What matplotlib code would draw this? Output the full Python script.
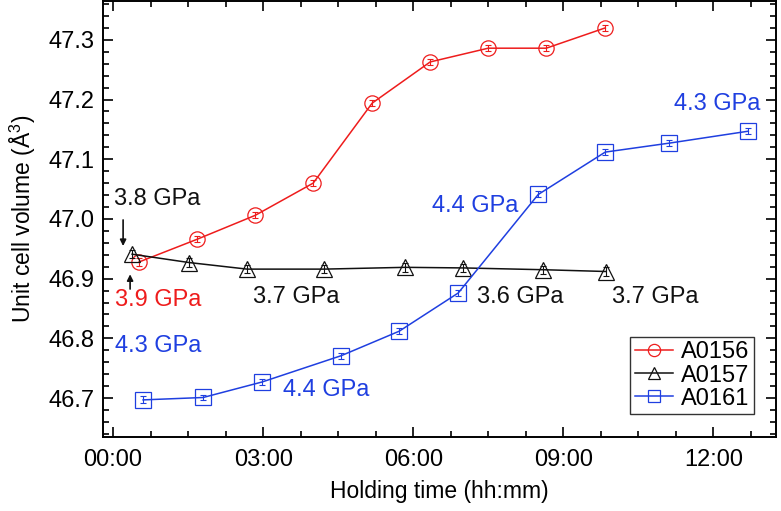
import numpy as np
import matplotlib
matplotlib.use("Agg")
import matplotlib.pyplot as plt
from matplotlib.ticker import MultipleLocator, FuncFormatter

plt.rcParams['font.family'] = ['Liberation Sans', 'DejaVu Sans']
plt.rcParams['mathtext.fontset'] = 'custom'
plt.rcParams['mathtext.rm'] = 'Liberation Sans'
plt.rcParams['mathtext.it'] = 'Liberation Sans:italic'

# holding time in hours, unit cell volume in A^3
t_a0156 = [0.52, 1.68, 2.84, 4.00, 5.18, 6.34, 7.50, 8.66, 9.84]
v_a0156 = [46.928, 46.966, 47.006, 47.060, 47.194, 47.263, 47.286, 47.286, 47.320]
e_a0156 = [0.006, 0.005, 0.005, 0.005, 0.005, 0.005, 0.005, 0.005, 0.005]

t_a0157 = [0.38, 1.52, 2.68, 4.22, 5.84, 7.00, 8.60, 9.86]
v_a0157 = [46.941, 46.927, 46.916, 46.916, 46.919, 46.918, 46.915, 46.912]
e_a0157 = [0.007, 0.007, 0.007, 0.007, 0.007, 0.007, 0.007, 0.007]

t_a0161 = [0.60, 1.80, 2.98, 4.56, 5.72, 6.90, 8.50, 9.84, 11.12, 12.70]
v_a0161 = [46.697, 46.701, 46.727, 46.771, 46.812, 46.876, 47.041, 47.112, 47.127, 47.147]
e_a0161 = [0.006, 0.005, 0.005, 0.005, 0.005, 0.005, 0.005, 0.005, 0.005, 0.005]

red = '#ee1c1c'
black = '#111111'
blue = '#1f3fe0'

fig = plt.figure(figsize=(7.81, 5.11), dpi=100)
ax = fig.add_axes([0.132, 0.145, 0.862, 0.853])

series = [(t_a0156, v_a0156, e_a0156, red, 'o', 'A0156'),
          (t_a0157, v_a0157, e_a0157, black, '^', 'A0157'),
          (t_a0161, v_a0161, e_a0161, blue, 's', 'A0161')]
for t, v, e, c, m, lab in series:
    ax.plot(t, v, color=c, marker=m, lw=1.1, ms=11, mfc='none', mew=0.9, label=lab)
    ax.errorbar(t, v, yerr=e, fmt='none', ecolor=c, capsize=2.5, elinewidth=0.8, capthick=0.8)

fs = 17
# pressure labels
ax.text(0.02, 47.033, '3.8 GPa', color=black, fontsize=fs, va='center')
ax.annotate('', xy=(0.20, 46.950), xytext=(0.20, 47.003),
            arrowprops=dict(arrowstyle='-|>', color=black, lw=1.2, mutation_scale=9))
ax.annotate('', xy=(0.34, 46.912), xytext=(0.34, 46.878),
            arrowprops=dict(arrowstyle='-|>', color=black, lw=1.2, mutation_scale=9))
ax.text(0.04, 46.864, '3.9 GPa', color=red, fontsize=fs, va='center')
ax.text(2.80, 46.869, '3.7 GPa', color=black, fontsize=fs, va='center')
ax.text(7.28, 46.869, '3.6 GPa', color=black, fontsize=fs, va='center')
ax.text(9.98, 46.869, '3.7 GPa', color=black, fontsize=fs, va='center')
ax.text(0.04, 46.787, '4.3 GPa', color=blue, fontsize=fs, va='center')
ax.text(3.40, 46.713, '4.4 GPa', color=blue, fontsize=fs, va='center')
ax.text(6.38, 47.022, '4.4 GPa', color=blue, fontsize=fs, va='center')
ax.text(11.22, 47.193, '4.3 GPa', color=blue, fontsize=fs, va='center')

ax.set_xlim(-0.2, 13.26)
ax.set_ylim(46.635, 47.365)
ax.xaxis.set_major_locator(MultipleLocator(3))
ax.xaxis.set_minor_locator(MultipleLocator(0.75))
ax.xaxis.set_major_formatter(FuncFormatter(lambda v, p: '%02d:%02d' % (int(v), int(round((v % 1) * 60)))))
ax.yaxis.set_major_locator(MultipleLocator(0.1))
ax.yaxis.set_minor_locator(MultipleLocator(0.02))
ax.yaxis.set_major_formatter(FuncFormatter(lambda v, p: '%.1f' % v))

ax.tick_params(which='both', direction='in', top=True, right=True, width=1.2, labelsize=fs)
ax.tick_params(which='major', length=7.5)
ax.tick_params(which='minor', length=4)
ax.tick_params(axis='x', pad=9)
ax.tick_params(axis='y', pad=6)
for s in ax.spines.values():
    s.set_linewidth(1.4)

ax.set_xlabel('Holding time (hh:mm)', fontsize=16.5, labelpad=6)
ax.set_ylabel('Unit cell volume (Å$^3$)', fontsize=16.5, labelpad=8)

leg = ax.legend(loc='lower right', fontsize=fs, handlelength=1.6, handletextpad=0.35,
                borderpad=0.2, labelspacing=0.05, borderaxespad=0.95, fancybox=False,
                framealpha=1, markerscale=0.8)
leg.get_frame().set_edgecolor('#333333')
leg.get_frame().set_linewidth(1.0)

fig.savefig('out.png', dpi=100)
